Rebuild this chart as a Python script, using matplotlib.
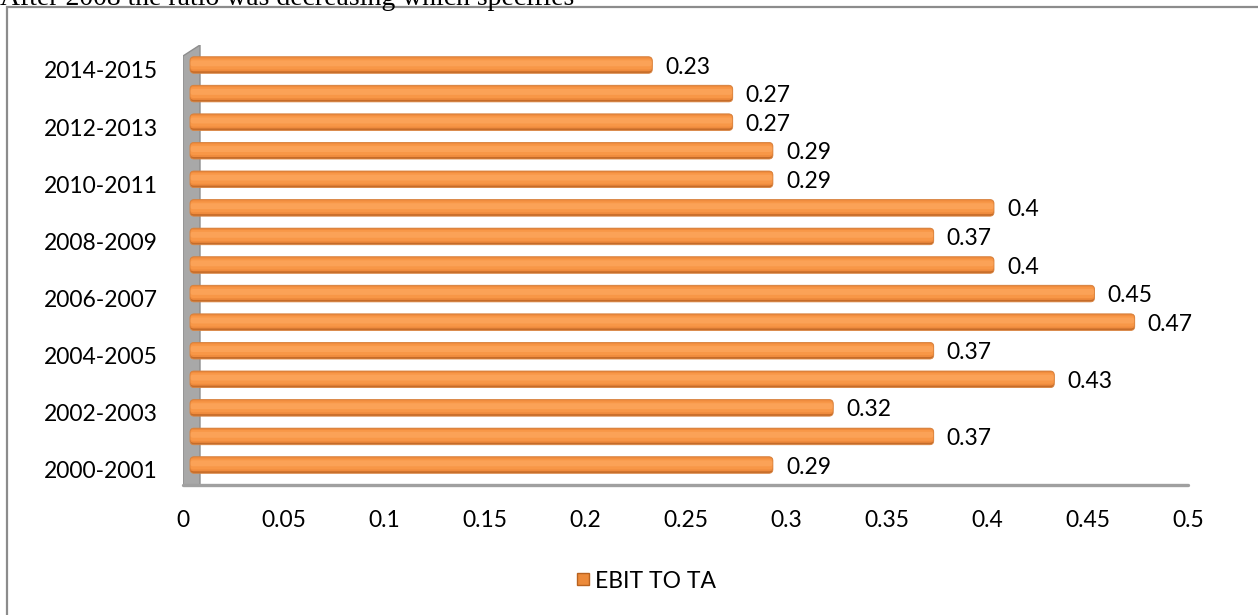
import matplotlib
matplotlib.use("Agg")
import matplotlib.pyplot as plt
import matplotlib.transforms as mtransforms
import numpy as np
from matplotlib.patches import Rectangle, FancyBboxPatch, Polygon
from matplotlib.lines import Line2D

periods = ["2000-2001", "2001-2002", "2002-2003", "2003-2004", "2004-2005",
           "2005-2006", "2006-2007", "2007-2008", "2008-2009", "2009-2010",
           "2010-2011", "2011-2012", "2012-2013", "2013-2014", "2014-2015"]
values = [0.29, 0.37, 0.32, 0.43, 0.37, 0.47, 0.45, 0.40, 0.37, 0.40,
          0.29, 0.29, 0.27, 0.27, 0.23]
xticks = [0, 0.05, 0.1, 0.15, 0.2, 0.25, 0.3, 0.35, 0.4, 0.45, 0.5]
xtick_labels = ["0", "0.05", "0.1", "0.15", "0.2", "0.25", "0.3", "0.35", "0.4", "0.45", "0.5"]
series_name = "EBIT TO TA"
caption = "After 2008 the ratio was decreasing which specifies"

plt.rcParams['font.family'] = ['Lato', 'DejaVu Sans']
FS = 16.5

W, H = 1258, 615
fig = plt.figure(figsize=(W / 100, H / 100), dpi=100)

# caption (cut at the top, as in the source page)
fig.text(0.0, 1 - 5 / H, caption, family='Liberation Serif', fontsize=20,
         ha='left', va='baseline', color='black')

# chart border
fig.patches.append(Rectangle((7 / W, -0.1), 1.2, (1 - 7 / H) + 0.1,
                             transform=fig.transFigure, fill=False,
                             edgecolor='#8c8c8c', linewidth=1.6))

ax = fig.add_axes([183 / W, 1 - 485 / H, 1005 / W, 440 / H])
ax.set_xlim(0, 0.5)
ax.set_ylim(-0.7, 14.7)

# back wall (3-D look)
wall = Polygon([(0, 0), (0, 1 - 11 / 440), (17 / 1005, 1), (17 / 1005, 0)],
               closed=True, transform=ax.transAxes, facecolor='#a8a8a8',
               edgecolor='#8e8e8e', linewidth=1.0, zorder=1)
ax.add_patch(wall)

# bars: 3-D depth shift
shift = mtransforms.ScaledTranslation(7 / 100, 0, fig.dpi_scale_trans)
trans = ax.transData + shift

y = np.arange(len(values))
bh = 0.58
bars = ax.barh(y, values, height=bh, color='none', edgecolor='none', zorder=2)

px_x = 0.5 / 1005          # data units per pixel (x)
px_y = 15.4 / 440          # data units per pixel (y)
asp = px_y / px_x
r = 4 * px_x
layers = [(1.00, 0.00, '#c56c2a'),
          (0.86, 0.05, '#ef8b3d'),
          (0.66, 0.06, '#f89747'),
          (0.36, 0.10, '#fba257')]
for b in bars:
    x0, w = b.get_x(), b.get_width()
    yc = b.get_y() + b.get_height() / 2
    h = b.get_height()
    for frac, up, col in layers:
        hh = frac * h
        p = FancyBboxPatch((x0, yc - hh / 2 + up * h), w, hh,
                           boxstyle=f"round,pad=0,rounding_size={r * (0.6 + 0.4 * frac)}",
                           mutation_aspect=asp, transform=trans,
                           facecolor=col, edgecolor='none', zorder=3)
        ax.add_patch(p)
    ax.add_patch(FancyBboxPatch((x0, yc - h / 2), w, h,
                                boxstyle=f"round,pad=0,rounding_size={r}",
                                mutation_aspect=asp, transform=trans,
                                facecolor='none', edgecolor='#d98440',
                                linewidth=0.6, zorder=4))

for yi, v in zip(y, values):
    ax.annotate(f"{v:g}", (v, yi), xytext=(14.5, -1.5), textcoords='offset points',
                ha='left', va='center', fontsize=FS, color='black', zorder=5)

# floor / axes
for s in ['top', 'right', 'left']:
    ax.spines[s].set_visible(False)
ax.spines['bottom'].set_color('#a0a0a0')
ax.spines['bottom'].set_linewidth(2.4)
ax.spines['bottom'].set_capstyle('round')

ax.set_xticks(xticks)
ax.set_xticklabels(xtick_labels)
ax.tick_params(axis='x', length=0, pad=18, labelsize=FS)
ax.set_yticks(y[::2])
ax.set_yticklabels(periods[::2])
ax.tick_params(axis='y', length=0, pad=18, labelsize=FS)
down = mtransforms.ScaledTranslation(0, -5 / 100, fig.dpi_scale_trans)
for lab in ax.get_yticklabels():
    lab.set_transform(lab.get_transform() + down)
ax.set_facecolor('none')

handle = Line2D([], [], marker='s', linestyle='none', markersize=8.5,
                markerfacecolor='#ec8a3a', markeredgecolor='#b8621f')
fig.legend([handle], [series_name], loc='center', bbox_to_anchor=(645 / W, 1 - 581 / H),
           frameon=False, fontsize=FS, handletextpad=0.1, handlelength=0.8,
           borderpad=0, borderaxespad=0)

fig.savefig("out.png", dpi=100)
